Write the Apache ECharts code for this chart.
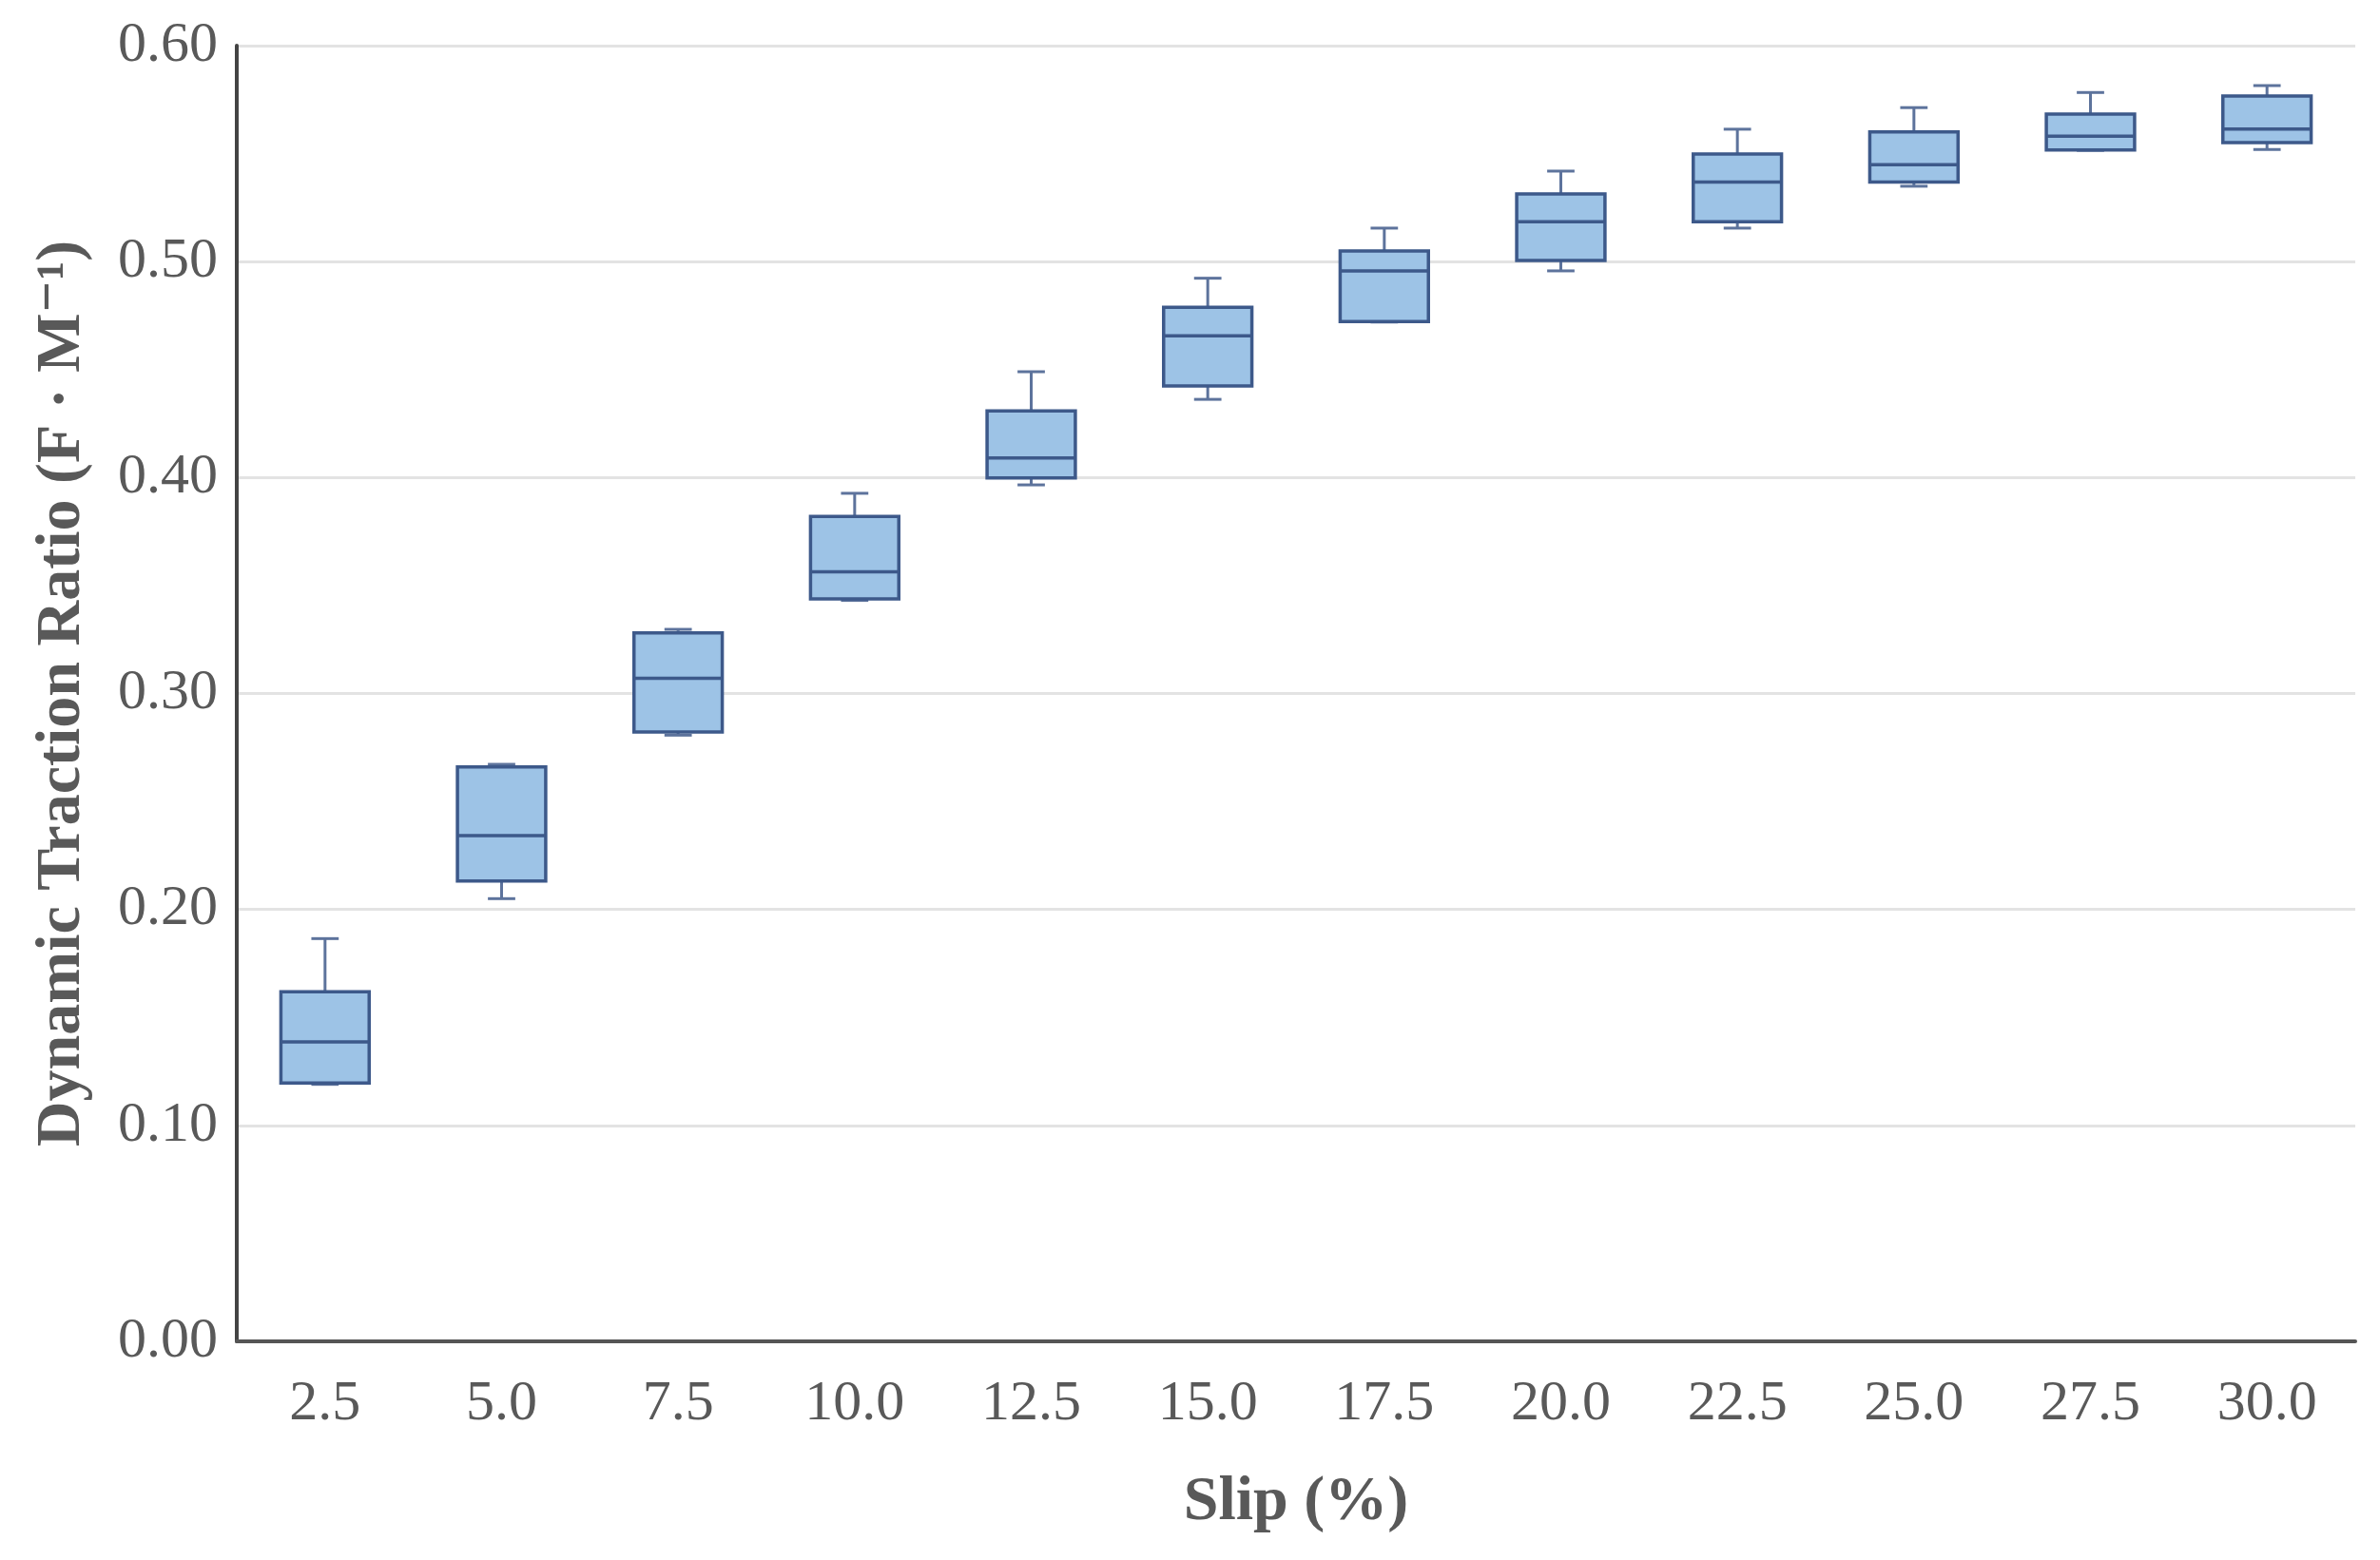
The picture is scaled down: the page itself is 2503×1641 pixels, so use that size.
<!DOCTYPE html>
<html>
<head>
<meta charset="utf-8">
<script src="https://cdn.jsdelivr.net/npm/echarts@6/dist/echarts.min.js"></script>
<style>
  html, body { margin: 0; padding: 0; background: #ffffff; }
  #chart { width: 2503px; height: 1641px; }
</style>
</head>
<body>
<div id="chart"></div>
<script>
// ---- Data ----
const categories = ['2.5', '5.0', '7.5', '10.0', '12.5', '15.0', '17.5', '20.0', '22.5', '25.0', '27.5', '30.0'];
const minVals    = [0.119, 0.205, 0.2807, 0.3431, 0.3966, 0.4362, 0.4720, 0.4957, 0.5155, 0.5349, 0.5515, 0.5519];
const q1Vals     = [0.1196, 0.2132, 0.2822, 0.3438, 0.3998, 0.4424, 0.4722, 0.5005, 0.5184, 0.5368, 0.5517, 0.5551];
const medianVals = [0.1387, 0.2342, 0.3070, 0.3563, 0.4091, 0.4656, 0.4957, 0.5184, 0.5368, 0.5449, 0.5581, 0.5614];
const q3Vals     = [0.1619, 0.2660, 0.3281, 0.3820, 0.4308, 0.4788, 0.5049, 0.5313, 0.5498, 0.5600, 0.5683, 0.5767];
const maxVals    = [0.1865, 0.2672, 0.3297, 0.3927, 0.4490, 0.4923, 0.5155, 0.5419, 0.5613, 0.5713, 0.5783, 0.5815];
const yTicks = { min: 0, max: 0.6, interval: 0.1 };

const seriesData = categories.map((c, i) => [i, minVals[i], q1Vals[i], medianVals[i], q3Vals[i], maxVals[i]]);

const FONT = '"Liberation Serif", "DejaVu Serif", serif';
const BOX_FILL = '#9dc3e6';
const BOX_EDGE = '#3d598a';
const WHISKER = '#5d739c';

function renderItem(params, api) {
  const x = api.value(0);
  const lo = api.coord([x, api.value(1)]);
  const q1 = api.coord([x, api.value(2)]);
  const med = api.coord([x, api.value(3)]);
  const q3 = api.coord([x, api.value(4)]);
  const hi = api.coord([x, api.value(5)]);
  const band = api.size([1, 0])[0];
  const bw = band * 0.5;
  const cw = band * 0.155;
  const cx = q3[0];
  const wStyle = { stroke: WHISKER, lineWidth: 3 };
  return {
    type: 'group',
    children: [
      { type: 'line', shape: { x1: cx, y1: hi[1], x2: cx, y2: q3[1] }, style: wStyle },
      { type: 'line', shape: { x1: cx, y1: q1[1], x2: cx, y2: lo[1] }, style: wStyle },
      { type: 'line', shape: { x1: cx - cw / 2, y1: hi[1], x2: cx + cw / 2, y2: hi[1] }, style: wStyle },
      { type: 'line', shape: { x1: cx - cw / 2, y1: lo[1], x2: cx + cw / 2, y2: lo[1] }, style: wStyle },
      { type: 'rect', shape: { x: cx - bw / 2, y: q3[1], width: bw, height: q1[1] - q3[1] },
        style: { fill: BOX_FILL, stroke: BOX_EDGE, lineWidth: 3.5 } },
      { type: 'line', shape: { x1: cx - bw / 2, y1: med[1], x2: cx + bw / 2, y2: med[1] },
        style: { stroke: BOX_EDGE, lineWidth: 3.5 } }
    ]
  };
}

const chart = echarts.init(document.getElementById('chart'), null, { renderer: 'canvas' });
chart.setOption({
  backgroundColor: '#ffffff',
  animation: false,
  grid: { left: 249, top: 48, right: 26, bottom: 230, containLabel: false },
  xAxis: {
    type: 'category',
    data: categories,
    boundaryGap: true,
    name: 'Slip (%)',
    nameLocation: 'middle',
    nameGap: 137,
    nameTextStyle: { fontFamily: FONT, fontWeight: 'bold', fontSize: 66, color: '#595959' },
    axisLine: { show: true, lineStyle: { color: '#555555', width: 4 } },
    axisTick: { show: false },
    axisLabel: { fontFamily: FONT, fontSize: 60, color: '#595959', margin: 36 },
    splitLine: { show: false }
  },
  yAxis: {
    type: 'value',
    min: yTicks.min,
    max: yTicks.max,
    interval: yTicks.interval,
    name: 'Dynamic Traction Ratio (F · M⁻¹)',
    nameLocation: 'middle',
    nameGap: 150,
    nameTextStyle: { fontFamily: FONT, fontWeight: 'bold', fontSize: 66, color: '#595959' },
    axisLine: { show: true, lineStyle: { color: '#444444', width: 4 } },
    axisTick: { show: false },
    axisLabel: { fontFamily: FONT, fontSize: 60, color: '#595959', margin: 20,
                 formatter: v => v.toFixed(2) },
    splitLine: { show: true, lineStyle: { color: '#e3e3e3', width: 3 } }
  },
  series: [{
    type: 'custom',
    renderItem: renderItem,
    encode: { x: 0, y: [1, 2, 3, 4, 5] },
    data: seriesData
  }]
});
</script>
</body>
</html>
